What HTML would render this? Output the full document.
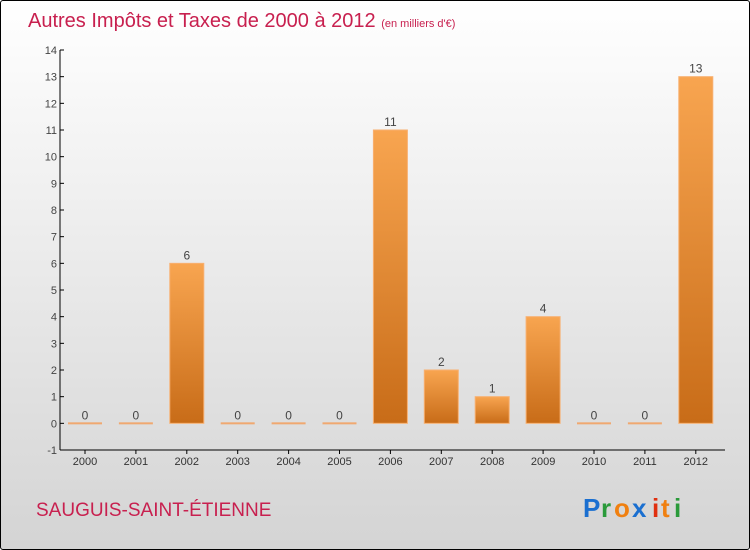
<!DOCTYPE html>
<html><head><meta charset="utf-8"><style>
html,body{margin:0;padding:0}
body{width:750px;height:550px;overflow:hidden;font-family:"Liberation Sans",sans-serif}
#wrap{position:absolute;left:0;top:0;width:748px;height:548px;border:1px solid #000;border-radius:3px;background:linear-gradient(#ffffff,#d4d4d4)}
</style></head><body>
<div id="wrap">
<svg width="750" height="550" style="position:absolute;left:-1px;top:-1px">
<defs><linearGradient id="bg" x1="0" y1="0" x2="0" y2="1"><stop offset="0" stop-color="#f8a550"/><stop offset="1" stop-color="#c86c18"/></linearGradient></defs>
<text x="28" y="27" font-size="20" fill="#c8204f">Autres Impôts et Taxes de 2000 à 2012 <tspan font-size="11">(en milliers d'€)</tspan></text>
<g id="axes"></g><g id="bars"></g>
<text x="36" y="516" font-size="19" fill="#c8204f">SAUGUIS-SAINT-ÉTIENNE</text>
<g font-size="26" font-weight="bold">
<text x="583" y="517" fill="#1a6fd0">P</text><text x="601" y="517" fill="#2a9a3a">r</text><text x="614" y="517" fill="#f08010">o</text><text x="632" y="517" fill="#1a6fd0">x</text><text x="652" y="517" fill="#e03010">i</text><text x="661" y="517" fill="#f08010">t</text><text x="674" y="517" fill="#2a9a3a">i</text></g>
</svg></div>
<script>
const categories=["2000","2001","2002","2003","2004","2005","2006","2007","2008","2009","2010","2011","2012"];
const values=[0,0,6,0,0,0,11,2,1,4,0,0,13];
const yTicks=[-1,0,1,2,3,4,5,6,7,8,9,10,11,12,13,14];
const NS="http://www.w3.org/2000/svg";
const x0=60,x1=725,yTop=50,yBot=450,yMin=-1,yMax=14;
const y=v=>yBot-(v-yMin)/(yMax-yMin)*(yBot-yTop);
const step=50.9,xc=i=>85+i*step,bw=34;
function mk(t,a,p){const e=document.createElementNS(NS,t);for(const k in a)e.setAttribute(k,a[k]);p.appendChild(e);return e;}
const ax=document.getElementById('axes'),bg=document.getElementById('bars');
const yl=mk('line',{x1:x0,y1:yTop,x2:x0,y2:yBot,stroke:'#000'},ax);

const xl=mk('line',{x1:x0,y1:yBot,x2:x1,y2:yBot,stroke:'#000'},ax);

yTicks.forEach(v=>{mk('line',{x1:x0,y1:y(v),x2:x0+4,y2:y(v),stroke:'#000'},ax);
const t=mk('text',{x:x0-3,y:y(v)+4,'font-size':11,fill:'#444','text-anchor':'end'},ax);t.textContent=v;
});
categories.forEach((c,i)=>{mk('line',{x1:xc(i),y1:yBot,x2:xc(i),y2:yBot+4,stroke:'#000'},ax);
const t=mk('text',{x:xc(i),y:yBot+15,'font-size':11,fill:'#333','text-anchor':'middle'},ax);t.textContent=c;

const v=values[i];let r;
if(v===0){r=mk('rect',{x:xc(i)-bw/2,y:y(0)-1,width:bw,height:2,fill:'#f0a870'},bg);}
else{r=mk('rect',{x:xc(i)-bw/2,y:y(v),width:bw,height:y(0)-y(v),fill:'url(#bg)',stroke:'#f8b070','stroke-width':1},bg);}

const l=mk('text',{x:xc(i),y:y(v)-4,'font-size':12,fill:'#444','text-anchor':'middle'},bg);l.textContent=v;
});
</script>
</body></html>
